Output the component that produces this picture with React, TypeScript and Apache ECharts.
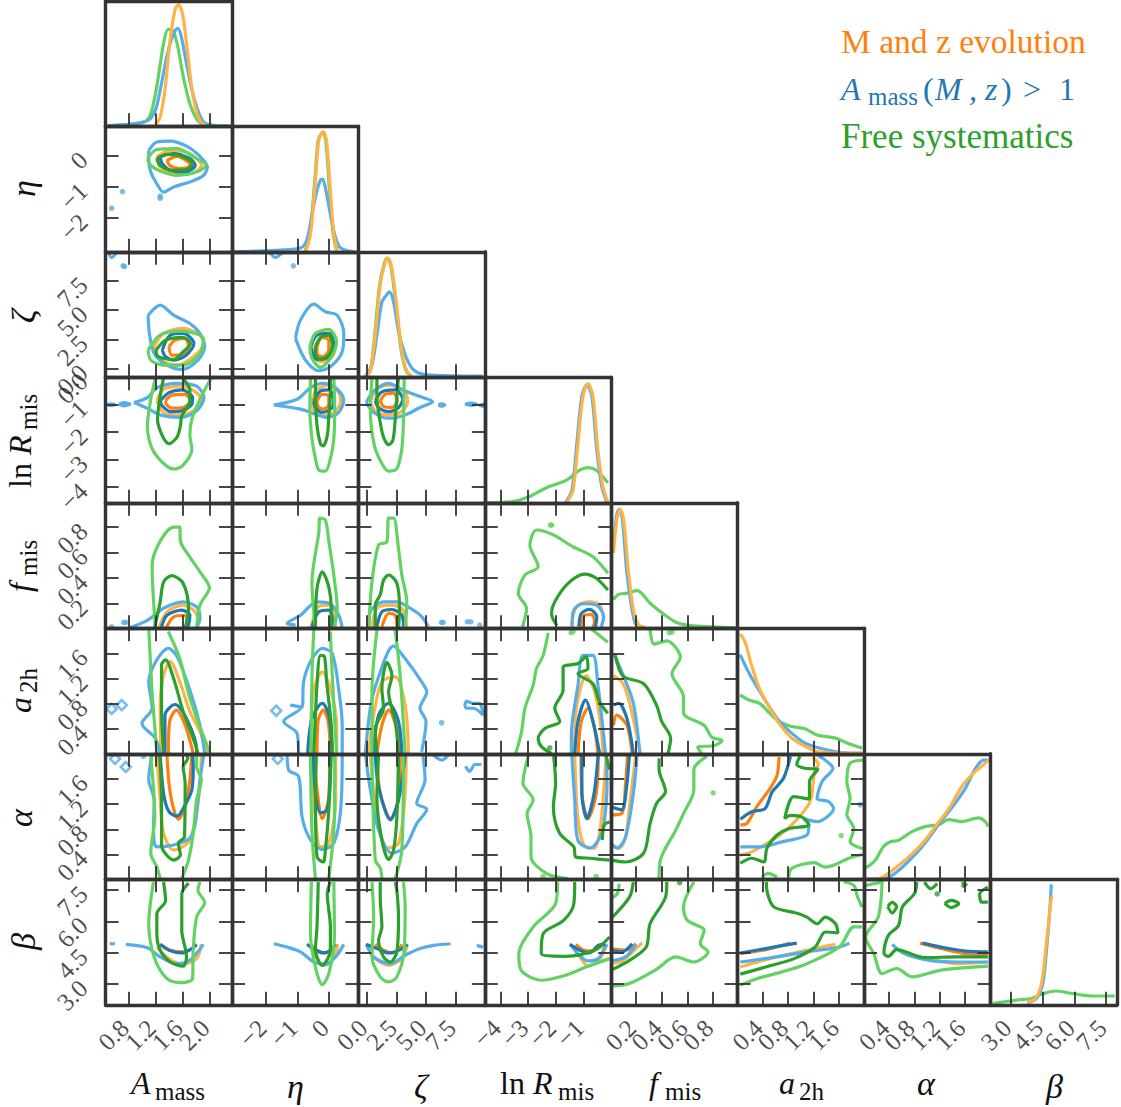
import React, { useEffect, useRef } from "react";
import * as echarts from "echarts";

type Curve = { k: string; kind: "line" | "dot" | "ring"; xs: number[]; ys: number[] };
const L = (k: string, xs: number[], ys: number[]): Curve => ({ k, kind: "line", xs: [...xs, xs[0]], ys: [...ys, ys[0]] });
const O = (k: string, xs: number[], ys: number[]): Curve => ({ k, kind: "line", xs, ys });
const D = (k: string, xs: number[], ys: number[]): Curve => ({ k, kind: "dot", xs, ys });
const R = (k: string, xs: number[], ys: number[]): Curve => ({ k, kind: "ring", xs, ys });

// Axis ranges and ticks
const amassRange = [0.46, 2.335];
const etaRange = [-3.1, 0.96];
const zetaRange = [-0.73, 9.98];
const lnRRange = [-4.57, 0];
const fmisRange = [0.008, 0.99];
const a2hRange = [0.007, 2.0];
const alphaRange = [0.005, 2.0];
const betaRange = [2.02, 8.0];
const ranges = [amassRange, etaRange, zetaRange, lnRRange, fmisRange, a2hRange, alphaRange, betaRange];

const amassTicks = [0.8, 1.2, 1.6, 2.0];
const etaTicks = [-2, -1, 0];
const zetaTicks = [0, 2.5, 5, 7.5];
const lnRTicks = [-4, -3, -2, -1];
const fmisTicks = [0.2, 0.4, 0.6, 0.8];
const a2hTicks = [0.4, 0.8, 1.2, 1.6];
const alphaTicks = [0.4, 0.8, 1.2, 1.6];
const betaTicks = [3, 4.5, 6, 7.5];
const ticks = [amassTicks, etaTicks, zetaTicks, lnRTicks, fmisTicks, a2hTicks, alphaTicks, betaTicks];

const amassLabels = ["0.8", "1.2", "1.6", "2.0"];
const etaLabels = ["−2", "−1", "0"];
const zetaLabels = ["0.0", "2.5", "5.0", "7.5"];
const lnRLabels = ["−4", "−3", "−2", "−1"];
const fmisLabels = ["0.2", "0.4", "0.6", "0.8"];
const a2hLabels = ["0.4", "0.8", "1.2", "1.6"];
const alphaLabels = ["0.4", "0.8", "1.2", "1.6"];
const betaLabels = ["3.0", "4.5", "6.0", "7.5"];
const tickLabels = [amassLabels, etaLabels, zetaLabels, lnRLabels, fmisLabels, a2hLabels, alphaLabels, betaLabels];

// One-dimensional marginals
const d_amass = [
  O("g", [0.5, 1.03, 1.13, 1.22, 1.32, 1.385, 1.44, 1.52, 1.61, 1.71, 1.81, 1.91, 2.3], [0.005, 0.035, 0.1, 0.32, 0.66, 0.77, 0.77, 0.66, 0.4, 0.18, 0.06, 0.015, 0.003]),
  O("b", [0.5, 0.9, 1.1, 1.2, 1.27, 1.37, 1.44, 1.49, 1.53, 1.58, 1.66, 1.74, 1.81, 1.91, 2.05], [0.005, 0.02, 0.05, 0.13, 0.29, 0.56, 0.7, 0.76, 0.78, 0.72, 0.5, 0.29, 0.155, 0.035, 0.005]),
  O("o", [1.2, 1.27, 1.34, 1.41, 1.49, 1.54, 1.6, 1.66, 1.73, 1.8, 1.87, 1.95], [0.01, 0.075, 0.29, 0.66, 0.93, 0.97, 0.9, 0.66, 0.34, 0.13, 0.035, 0.005]),
];
const d_eta = [
  O("g", [-0.76, -0.6, -0.44, -0.33, -0.19, -0.09, 0.04, 0.15, 0.26], [0, 0.14, 0.57, 0.89, 0.95, 0.89, 0.46, 0.14, 0.01]),
  O("b", [-3.05, -1.98, -0.9, -0.69, -0.53, -0.37, -0.26, -0.19, -0.1, 0.06, 0.23, 0.39, 0.82], [0, 0.01, 0.03, 0.1, 0.3, 0.49, 0.57, 0.58, 0.51, 0.3, 0.11, 0.03, 0]),
  O("o", [-0.74, -0.58, -0.42, -0.31, -0.17, -0.065, 0.065, 0.17, 0.28], [0, 0.14, 0.57, 0.89, 0.955, 0.89, 0.46, 0.14, 0.01]),
];
const d_zeta = [
  O("g", [-0.14, 0.28, 0.65, 1.07, 1.44, 1.72, 2.05, 2.48, 2.9, 3.32, 3.8], [0.01, 0.05, 0.34, 0.74, 0.9, 0.95, 0.87, 0.55, 0.21, 0.05, 0.005]),
  O("b", [-0.14, 0.42, 0.84, 1.26, 1.69, 1.9, 2.25, 2.67, 3.23, 3.93, 5.05, 9.8], [0.005, 0.1, 0.34, 0.6, 0.66, 0.68, 0.6, 0.37, 0.18, 0.06, 0.02, 0.01]),
  O("o", [-0.14, 0.28, 0.7, 1.12, 1.49, 1.77, 2.1, 2.53, 2.95, 3.37, 3.8], [0.01, 0.05, 0.34, 0.74, 0.9, 0.95, 0.87, 0.55, 0.21, 0.05, 0.01]),
];
const d_lnR = [
  O("g", [-4.5, -3.55, -2.95, -2.34, -1.62, -1.14, -0.84, -0.54, -0.12], [0, 0.01, 0.05, 0.12, 0.18, 0.26, 0.28, 0.26, 0.16]),
  O("b", [-1.64, -1.42, -1.24, -1.06, -0.88, -0.7, -0.52, -0.34, -0.16], [0.005, 0.1, 0.48, 0.85, 0.94, 0.85, 0.42, 0.13, 0.005]),
  O("o", [-1.6, -1.38, -1.2, -1.02, -0.84, -0.66, -0.48, -0.3, -0.12], [0.005, 0.1, 0.48, 0.85, 0.95, 0.85, 0.42, 0.13, 0.005]),
];
const d_fmis = [
  O("g", [0.026, 0.065, 0.13, 0.21, 0.31, 0.42, 0.52, 0.65, 0.99], [0.23, 0.27, 0.28, 0.3, 0.2, 0.11, 0.045, 0.02, 0.003]),
  O("b", [0.026, 0.05, 0.07, 0.095, 0.13, 0.17, 0.2, 0.25], [0.65, 0.9, 0.95, 0.87, 0.44, 0.15, 0.03, 0.005]),
  O("o", [0.026, 0.052, 0.078, 0.104, 0.143, 0.18, 0.22, 0.27], [0.6, 0.87, 0.95, 0.87, 0.44, 0.15, 0.03, 0.01]),
];
const d_a2h = [
  O("g", [0.047, 0.18, 0.36, 0.5, 0.65, 0.84, 1.07, 1.26, 1.55, 1.76, 1.97], [0.47, 0.43, 0.4, 0.33, 0.26, 0.22, 0.2, 0.15, 0.125, 0.08, 0.045]),
  O("b", [0.047, 0.18, 0.34, 0.5, 0.65, 0.86, 1.07, 1.34, 1.65, 1.97], [0.79, 0.65, 0.51, 0.38, 0.27, 0.165, 0.085, 0.04, 0.01, 0.005]),
  O("o", [0.047, 0.126, 0.23, 0.36, 0.5, 0.65, 0.86, 1.07, 1.28, 1.6, 1.97], [0.955, 0.89, 0.7, 0.51, 0.38, 0.25, 0.125, 0.06, 0.015, 0.005, 0.003]),
];
const d_alpha = [
  O("g", [0.03, 0.18, 0.31, 0.42, 0.55, 0.76, 0.97, 1.18, 1.34, 1.55, 1.81, 1.92, 1.96], [0.09, 0.15, 0.26, 0.3, 0.31, 0.38, 0.42, 0.435, 0.475, 0.46, 0.49, 0.46, 0.42]),
  O("b", [0.03, 0.34, 0.55, 0.76, 0.97, 1.18, 1.39, 1.6, 1.76, 1.89, 1.97], [0, 0.005, 0.07, 0.17, 0.29, 0.435, 0.57, 0.72, 0.88, 0.95, 0.95]),
  O("o", [0.03, 0.28, 0.49, 0.76, 0.97, 1.13, 1.34, 1.55, 1.7, 1.86, 1.97], [0, 0.013, 0.086, 0.2, 0.31, 0.42, 0.56, 0.74, 0.83, 0.9, 0.95]),
];
const d_beta = [
  O("g", [2.13, 3.38, 3.96, 4.35, 5.1, 5.9, 6.85, 7.9], [0.01, 0.04, 0.05, 0.08, 0.11, 0.09, 0.07, 0.07]),
  O("b", [3.77, 4.2, 4.5, 4.67, 4.83, 4.9], [0.015, 0.05, 0.17, 0.43, 0.75, 0.96]),
  O("o", [3.77, 4.15, 4.44, 4.63, 4.83, 4.92], [0.02, 0.05, 0.17, 0.43, 0.75, 0.87]),
];
const diagonals = [d_amass, d_eta, d_zeta, d_lnR, d_fmis, d_a2h, d_alpha, d_beta];

// Two-dimensional contours, one list per panel (row parameter _ column parameter)
const eta_amass = [
  L("b2", [1.1, 1.22, 1.42, 1.66, 1.83, 1.97, 1.91, 1.71, 1.47, 1.32, 1.22, 1.13, 1.1], [0.18, 0.45, 0.48, 0.32, 0.05, -0.36, -0.63, -0.84, -1.0, -1.17, -0.9, -0.52, -0.14]),
  L("o2", [1.22, 1.42, 1.71, 1.88, 1.71, 1.47, 1.27], [-0.03, 0.18, 0.08, -0.3, -0.57, -0.57, -0.36]),
  L("o1", [1.37, 1.52, 1.69, 1.71, 1.57, 1.42], [-0.14, -0.01, -0.2, -0.32, -0.41, -0.32]),
  L("b1", [1.27, 1.47, 1.71, 1.79, 1.64, 1.42, 1.3], [-0.03, 0.08, -0.09, -0.3, -0.52, -0.46, -0.25]),
  L("g2", [1.08, 1.22, 1.52, 1.76, 1.95, 1.81, 1.52, 1.27, 1.13], [-0.09, 0.21, 0.24, -0.03, -0.3, -0.52, -0.63, -0.49, -0.3]),
  L("g1", [1.22, 1.37, 1.59, 1.75, 1.66, 1.44, 1.27], [-0.09, 0.05, -0.01, -0.25, -0.44, -0.46, -0.3]),
  D("b2", [0.71, 0.55, 1.27, 1.27], [-1.15, -1.69, -1.3, -1.37]),
];
const zeta_amass = [
  L("b2", [1.09, 1.27, 1.47, 1.71, 1.86, 1.93, 1.83, 1.59, 1.37, 1.18, 1.11], [4.57, 5.43, 4.57, 3.86, 3.01, 1.88, 0.74, -0.06, 0.31, 1.31, 3.01]),
  L("o2", [1.18, 1.32, 1.61, 1.86, 1.91, 1.76, 1.52, 1.27], [1.88, 3.01, 3.44, 2.87, 2.16, 1.02, 0.31, 0.74]),
  L("o1", [1.4, 1.49, 1.64, 1.69, 1.57, 1.44], [1.88, 2.44, 2.59, 1.88, 1.17, 1.17]),
  L("b1", [1.3, 1.42, 1.61, 1.77, 1.66, 1.47, 1.35], [1.59, 2.87, 3.01, 2.16, 1.17, 0.74, 1.02]),
  L("g2", [1.09, 1.27, 1.57, 1.91, 1.86, 1.61, 1.32, 1.13], [1.59, 2.87, 3.21, 2.59, 1.31, 0.31, 0.31, 0.74]),
  L("g1", [1.21, 1.35, 1.61, 1.72, 1.61, 1.47, 1.32, 1.22], [1.59, 2.44, 2.67, 2.16, 1.45, 0.8, 0.88, 1.17]),
  O("b2", [0.5, 0.55, 0.62], [9.97, 9.49, 9.89]),
  D("b2", [0.72, 0.74], [8.78, 8.72]),
];
const zeta_eta = [
  L("b2", [-1.06, -0.9, -0.47, -0.1, 0.28, 0.49, 0.44, 0.06, -0.31, -0.74], [2.59, 4.15, 5.51, 4.86, 4.57, 3.01, 1.45, 0.17, -0.17, 0.74]),
  L("o2", [-0.53, -0.42, 0.01, 0.23, 0.12, -0.26, -0.47], [1.88, 3.01, 3.35, 2.44, 1.02, 0.6, 1.02]),
  L("b1", [-0.58, -0.37, 0.01, 0.17, 0.01, -0.37], [1.88, 2.87, 3.01, 2.02, 1.02, 0.8]),
  L("o1", [-0.37, -0.2, 0.01, 0.01, -0.2, -0.37], [1.88, 2.67, 2.44, 1.59, 1.02, 1.31]),
  L("g2", [-0.6, -0.42, 0.01, 0.26, 0.06, -0.26, -0.53], [1.88, 3.01, 3.35, 2.3, 0.88, 0.11, 0.88]),
  L("g1", [-0.42, -0.26, 0.01, 0.12, 0.01, -0.26, -0.42], [1.88, 2.67, 2.87, 2.02, 1.17, 0.8, 1.31]),
  O("b2", [-1.87, -1.71, -1.49], [9.89, 9.49, 9.89]),
  D("b2", [-1.13], [8.78]),
];
const lnR_amass = [
  L("b2", [0.88, 1.08, 1.22, 1.52, 1.81, 1.92, 1.81, 1.57, 1.27, 1.08], [-0.92, -0.74, -0.38, -0.22, -0.32, -0.74, -1.22, -1.46, -1.37, -1.13]),
  L("o2", [1.22, 1.32, 1.57, 1.81, 1.88, 1.76, 1.52, 1.32], [-0.86, -0.44, -0.32, -0.56, -0.86, -1.22, -1.37, -1.28]),
  L("o1", [1.35, 1.44, 1.64, 1.72, 1.61, 1.44, 1.36], [-0.86, -0.65, -0.62, -0.86, -1.1, -1.12, -0.98]),
  L("b1", [1.27, 1.4, 1.59, 1.75, 1.74, 1.59, 1.42, 1.3], [-0.86, -0.56, -0.46, -0.74, -0.98, -1.22, -1.25, -1.04]),
  O("g1", [1.32, 1.27, 1.23, 1.3, 1.4, 1.52, 1.57, 1.59, 1.71, 1.71, 1.64, 1.61], [-0.02, -0.68, -1.52, -2.12, -2.42, -2.18, -1.76, -1.4, -0.86, -0.44, -0.14, -0.02]),
  O("g2", [1.2, 1.13, 1.08, 1.15, 1.32, 1.47, 1.61, 1.74, 1.71, 1.74, 1.86, 2.0, 2.03], [-0.02, -0.8, -1.76, -2.6, -3.14, -3.34, -3.2, -2.6, -2.12, -1.52, -0.8, -0.14, -0.02]),
  L("b2", [0.66, 0.73, 0.82, 0.73], [-0.98, -0.92, -0.98, -1.04]),
  L("b2", [0.47, 0.55, 0.6, 0.55], [-1.0, -0.97, -1.0, -1.03]),
];
const lnR_eta = [
  L("b2", [-1.76, -1.01, -0.58, -0.2, 0.23, 0.49, 0.33, -0.04, -0.42, -0.9], [-1.01, -0.8, -0.38, -0.22, -0.38, -0.82, -1.28, -1.46, -1.34, -1.16]),
  L("o2", [-0.53, -0.37, 0.01, 0.33, 0.39, 0.17, -0.2, -0.47], [-0.86, -0.44, -0.29, -0.56, -0.92, -1.28, -1.4, -1.22]),
  L("o1", [-0.37, -0.2, 0.01, 0.01, -0.17, -0.34], [-0.86, -0.62, -0.68, -0.98, -1.16, -1.04]),
  L("b1", [-0.47, -0.26, 0.01, 0.17, 0.12, -0.2, -0.42], [-0.86, -0.5, -0.46, -0.8, -1.1, -1.28, -1.1]),
  O("g1", [-0.42, -0.42, -0.37, -0.26, -0.17, -0.04, 0.01, 0.06, 0.06], [-0.02, -0.68, -1.76, -2.42, -2.5, -2.12, -1.4, -0.56, -0.02]),
  O("g2", [-0.58, -0.6, -0.53, -0.42, -0.31, -0.1, 0.06, 0.17, 0.2, 0.17], [-0.02, -1.16, -2.24, -2.96, -3.38, -3.42, -2.96, -2.24, -1.16, -0.02]),
];
const lnR_zeta = [
  L("b2", [-0.06, 0.56, 1.83, 3.23, 4.49, 5.56, 4.49, 3.23, 1.83, 0.56], [-0.92, -0.5, -0.22, -0.5, -0.7, -0.89, -1.1, -1.37, -1.49, -1.28]),
  L("o2", [0.28, 0.84, 1.97, 3.23, 3.43, 2.81, 1.83, 0.7], [-0.86, -0.44, -0.29, -0.56, -0.92, -1.28, -1.37, -1.22]),
  L("o1", [1.12, 1.54, 2.25, 2.58, 2.11, 1.4], [-0.86, -0.62, -0.58, -0.86, -1.1, -1.06]),
  L("b1", [0.7, 1.26, 2.39, 3.03, 2.67, 1.83, 0.98], [-0.86, -0.53, -0.46, -0.8, -1.1, -1.25, -1.1]),
  O("g1", [0.84, 0.84, 1.07, 1.4, 1.83, 2.19, 2.39, 2.53, 2.67], [-0.02, -0.68, -1.52, -2.18, -2.45, -2.3, -1.52, -0.68, -0.02]),
  O("g2", [0.42, 0.28, 0.62, 1.26, 1.83, 2.53, 2.95, 3.09, 3.15], [-0.02, -1.16, -2.48, -3.14, -3.42, -3.32, -2.6, -1.52, -0.02]),
  L("b2", [6.05, 6.3, 6.6, 6.3], [-1.01, -0.97, -1.01, -1.05]),
  L("b2", [8.3, 8.8, 9.3, 8.8], [-0.98, -0.94, -0.98, -1.02]),
  L("b2", [9.5, 9.97, 9.97], [-1.02, -0.96, -1.07]),
];
const fmis_amass = [
  O("g2", [1.2, 1.15, 1.27, 1.47, 1.56, 1.57, 1.69, 1.86, 2.0, 1.86, 1.81], [0.007, 0.5, 0.69, 0.8, 0.8, 0.69, 0.58, 0.45, 0.325, 0.19, 0.007]),
  O("g1", [1.185, 1.27, 1.32, 1.44, 1.61, 1.69, 1.64], [0.007, 0.215, 0.37, 0.42, 0.36, 0.16, 0.007]),
  O("b2", [0.81, 1.08, 1.32, 1.61, 1.81, 1.86, 1.81], [0.012, 0.07, 0.165, 0.215, 0.175, 0.085, 0.012]),
  O("o2", [1.26, 1.37, 1.61, 1.79, 1.84], [0.02, 0.137, 0.19, 0.137, 0.046]),
  O("o1", [1.36, 1.47, 1.64, 1.69], [0.012, 0.098, 0.11, 0.033]),
  O("b1", [1.29, 1.37, 1.59, 1.71, 1.69, 1.64], [0.02, 0.11, 0.15, 0.11, 0.033, 0.012]),
  D("b2", [0.55, 0.73, 0.76], [0.02, 0.054, 0.054]),
];
const fmis_eta = [
  O("g2", [-0.42, -0.53, -0.31, -0.28, -0.1, 0.01, 0.17, 0.28, 0.17], [0.007, 0.37, 0.76, 0.87, 0.855, 0.69, 0.425, 0.16, 0.007]),
  O("g1", [-0.42, -0.37, -0.2, 0.01, 0.09, 0.06], [0.007, 0.32, 0.45, 0.33, 0.16, 0.007]),
  O("b2", [-1.06, -1.33, -0.9, -0.37, 0.06, 0.33, 0.44], [0.035, 0.046, 0.11, 0.215, 0.2, 0.11, 0.012]),
  O("o2", [-0.56, -0.31, 0.01, 0.17, 0.23], [0.02, 0.18, 0.19, 0.137, 0.012]),
  O("b1", [-0.53, -0.31, 0.01, 0.12, 0.12], [0.02, 0.137, 0.15, 0.085, 0.012]),
];
const fmis_zeta = [
  O("g2", [0.14, 0.42, 0.98, 1.69, 1.83, 2.25, 2.67, 2.95, 3.37, 3.23], [0.007, 0.37, 0.66, 0.685, 0.87, 0.87, 0.63, 0.425, 0.215, 0.007]),
  O("g1", [0.7, 0.7, 1.12, 1.4, 1.83, 2.53, 2.75, 2.67], [0.007, 0.19, 0.27, 0.385, 0.425, 0.36, 0.165, 0.007]),
  O("b2", [0.14, 0.28, 1.4, 2.53, 3.65, 4.63, 5.2], [0.012, 0.137, 0.215, 0.215, 0.165, 0.1, 0.02]),
  O("o2", [0.42, 0.84, 1.83, 2.95, 3.37], [0.012, 0.165, 0.19, 0.165, 0.012]),
  O("b1", [0.84, 1.26, 2.1, 2.95, 3.09], [0.02, 0.137, 0.155, 0.11, 0.02]),
  O("o1", [1.26, 1.83, 2.39, 2.53], [0.02, 0.125, 0.11, 0.02]),
  D("b2", [6.32, 6.45, 8.5, 8.8, 9.55], [0.054, 0.054, 0.059, 0.059, 0.033]),
];
const fmis_lnR = [
  O("g2", [-3.21, -3.06, -3.36, -3.12, -2.64, -2.94, -2.7, -2.1, -1.38, -0.66, -0.12], [0.02, 0.163, 0.28, 0.425, 0.49, 0.66, 0.777, 0.74, 0.646, 0.568, 0.438]),
  D("g2", [-2.2, -2.15], [0.816, 0.816]),
  O("g1", [-1.96, -2.16, -2.04, -1.56, -0.96, -0.54, -0.12], [0.028, 0.124, 0.216, 0.36, 0.432, 0.4, 0.307]),
  O("b2", [-1.41, -1.38, -1.02, -0.54, -0.27, -0.36], [0.02, 0.137, 0.2, 0.19, 0.098, 0.02]),
  O("o2", [-1.44, -1.26, -0.84, -0.42, -0.27], [0.033, 0.176, 0.215, 0.19, 0.06]),
  O("b1", [-1.17, -1.08, -0.78, -0.52, -0.57], [0.02, 0.124, 0.156, 0.098, 0.02]),
  O("o1", [-1.08, -0.96, -0.72, -0.6, -0.66], [0.02, 0.11, 0.116, 0.06, 0.02]),
];
const a2h_amass = [
  O("b2", [1.27, 1.2, 1.0, 1.15, 1.1, 1.22, 1.39, 1.52, 1.71, 1.86, 1.93], [0.014, 0.25, 0.49, 0.73, 1.15, 1.5, 1.68, 1.55, 1.02, 0.46, 0.014]),
  O("o2", [1.28, 1.27, 1.32, 1.42, 1.56, 1.71, 1.86, 1.98], [0.014, 0.78, 1.26, 1.47, 1.15, 0.68, 0.36, 0.014]),
  O("o1", [1.39, 1.41, 1.51, 1.64, 1.76], [0.014, 0.52, 0.7, 0.46, 0.014]),
  O("b1", [1.34, 1.34, 1.49, 1.66, 1.81, 1.81], [0.014, 0.62, 0.79, 0.57, 0.07, 0.014]),
  O("g1", [1.32, 1.29, 1.29, 1.35, 1.47, 1.61, 1.76, 1.83], [0.014, 0.73, 1.42, 1.5, 1.2, 0.68, 0.25, 0.014]),
  O("g2", [1.1, 1.12, 1.15, 1.22], [2.0, 1.57, 0.99, 0.014]),
  O("g2", [1.39, 1.56, 1.71, 2.0], [1.95, 1.52, 0.89, 0.04]),
  R("b2", [0.55, 0.7], [0.72, 0.78]),
];
const a2h_eta = [
  O("b2", [-0.96, -1.01, -1.44, -0.9, -1.23, -0.85, -0.8, -0.58, -0.2, 0.12, 0.33, 0.44, 0.44], [0.014, 0.33, 0.52, 0.73, 0.78, 0.75, 1.15, 1.47, 1.68, 1.6, 1.02, 0.46, 0.014]),
  O("o2", [-0.58, -0.49, -0.2, 0.06, 0.26, 0.26], [0.014, 0.99, 1.31, 1.05, 0.46, 0.014]),
  O("o1", [-0.37, -0.34, -0.17, -0.01, 0.06], [0.014, 0.52, 0.7, 0.52, 0.014]),
  O("b1", [-0.67, -0.53, -0.2, 0.01, 0.12], [0.014, 0.57, 0.81, 0.62, 0.014]),
  O("g1", [-0.47, -0.37, -0.26, -0.13, -0.06, 0.09, 0.12], [0.014, 1.1, 1.57, 1.55, 1.15, 0.46, 0.014]),
  O("g2", [-0.47, -0.53, -0.56], [2.0, 1.26, 0.014]),
  O("g2", [0.06, 0.12, 0.26], [1.95, 1.26, 0.014]),
  R("b2", [-1.68], [0.69]),
];
const a2h_zeta = [
  O("b2", [-0.14, 0.28, 0.84, 2.25, 3.23, 4.63, 5.06, 4.49, 5.0, 4.63], [0.014, 0.73, 1.15, 1.72, 1.52, 1.15, 0.99, 0.73, 0.52, 0.04]),
  O("o2", [0.14, 0.56, 1.26, 2.39, 3.23, 3.51], [0.014, 0.62, 1.15, 1.23, 0.78, 0.014]),
  O("o1", [0.84, 1.26, 1.83, 2.53, 2.81], [0.014, 0.46, 0.7, 0.41, 0.014]),
  O("b1", [0.56, 0.98, 1.83, 2.67, 2.95], [0.014, 0.62, 0.81, 0.52, 0.014]),
  O("g1", [0.84, 0.7, 1.4, 1.26, 1.69, 2.11, 1.83, 2.39, 2.67], [0.014, 0.41, 0.73, 1.04, 1.46, 1.25, 0.99, 0.52, 0.014]),
  O("g2", [0.84, 0.42, 0.42], [1.97, 0.99, 0.014]),
  O("g2", [2.39, 2.81, 3.23], [1.97, 1.25, 0.014]),
  D("b2", [6.32], [0.5]),
  O("b2", [8.29, 8.43, 9.0, 9.83, 9.55, 9.0, 8.43, 8.29], [0.78, 0.73, 0.73, 0.62, 0.81, 0.81, 0.84, 0.78]),
];
const a2h_lnR = [
  O("g2", [-3.45, -3.24, -3.12, -2.82, -2.7, -2.46, -2.28], [0.014, 0.36, 0.73, 1.1, 1.36, 1.57, 1.93]),
  O("g2", [-0.72, -0.12], [1.99, 1.78]),
  D("g2", [-1.38, -1.45], [1.95, 1.93]),
  O("g1", [-2.16, -2.52, -2.64, -2.4, -1.86, -2.04, -1.74, -1.74, -1.2, -0.9, -0.84, -1.2, -0.66, -0.42, -0.12], [0.014, 0.12, 0.25, 0.41, 0.52, 0.73, 1.02, 1.38, 1.44, 1.55, 1.36, 1.28, 1.12, 0.83, 0.65]),
  D("g1", [-2.22], [0.1]),
  O("b2", [-1.44, -1.44, -1.2, -1.02, -0.66, -0.48, -0.3, -0.21], [0.014, 0.3, 1.1, 1.57, 1.57, 1.1, 0.41, 0.014]),
  O("o2", [-1.32, -1.26, -0.9, -0.6, -0.36, -0.3], [0.014, 0.73, 1.25, 1.0, 0.41, 0.014]),
  O("o1", [-1.2, -1.08, -0.84, -0.6, -0.48], [0.014, 0.52, 0.73, 0.41, 0.014]),
  O("b1", [-1.32, -1.2, -0.93, -0.66, -0.42], [0.014, 0.52, 0.86, 0.52, 0.014]),
];
const a2h_fmis = [
  O("g2", [0.31, 0.34, 0.44, 0.545, 0.48, 0.57, 0.57, 0.73, 0.79, 0.87, 0.81, 0.68, 0.71], [1.99, 1.75, 1.8, 1.54, 1.28, 0.91, 0.65, 0.46, 0.27, 0.22, 0.14, 0.11, 0.014]),
  D("g2", [0.46, 0.48], [1.93, 1.94]),
  O("g1", [0.04, 0.1, 0.26, 0.36, 0.4, 0.47, 0.45], [1.57, 1.24, 1.12, 0.78, 0.52, 0.25, 0.014]),
  O("b2", [0.026, 0.08, 0.18, 0.23], [1.6, 1.36, 0.81, 0.014]),
  O("o2", [0.026, 0.1, 0.155, 0.235], [1.25, 1.12, 0.78, 0.014]),
  O("o1", [0.026, 0.05, 0.13, 0.17], [0.46, 0.62, 0.46, 0.014]),
  O("b1", [0.026, 0.065, 0.13, 0.18], [0.78, 0.81, 0.57, 0.014]),
];
const alpha_amass = [
  O("b2", [1.15, 1.1, 1.18, 1.17, 1.22, 1.47, 1.71, 1.79, 1.86, 1.92], [2.0, 1.59, 1.27, 0.74, 0.52, 0.55, 0.66, 0.89, 1.59, 2.0]),
  O("o2", [1.22, 1.27, 1.32, 1.47, 1.71, 1.85, 1.88], [2, 1.27, 0.74, 0.47, 0.63, 1.37, 2]),
  O("o1", [1.37, 1.42, 1.54, 1.64, 1.71, 1.74], [2, 1.37, 0.96, 1.16, 1.59, 2]),
  O("b1", [1.27, 1.32, 1.4, 1.52, 1.64, 1.74, 1.76, 1.75], [2, 1.37, 1.08, 1.01, 1.19, 1.43, 1.8, 2]),
  O("g1", [1.26, 1.29, 1.29, 1.47, 1.57, 1.54, 1.63, 1.64, 1.61, 1.68, 1.64], [2, 1.27, 0.55, 0.31, 0.39, 0.58, 0.68, 1.53, 1.8, 1.93, 2]),
  O("g2", [1.13, 1.19, 1.13, 1.22, 1.27], [1.96, 1.0, 0.42, 0.2, 0.017]),
  O("g2", [1.81, 1.81, 1.88, 1.81, 1.76, 1.69, 1.59], [2, 1.8, 1.59, 1.27, 0.74, 0.31, 0.017]),
  R("b2", [0.6, 0.76], [1.92, 1.79]),
  D("b2", [1.02], [1.96]),
];
const alpha_eta = [
  O("b2", [-1.33, -1.28, -0.96, -0.85, -0.58, -0.2, 0.17, 0.39, 0.44], [2, 1.74, 1.64, 1.0, 0.63, 0.48, 0.58, 1.11, 2]),
  O("o2", [-0.58, -0.42, -0.26, 0.01, 0.23, 0.23], [2, 1, 0.52, 0.58, 1.27, 2]),
  O("o1", [-0.47, -0.37, -0.2, 0.01, 0.04], [2, 1.43, 0.97, 1.32, 2]),
  O("b1", [-0.49, -0.42, -0.26, -0.04, 0.04, 0.06], [2, 1.37, 1.06, 1.11, 1.53, 2]),
  O("g1", [-0.39, -0.42, -0.37, -0.17, -0.1, 0.01, 0.09], [2, 1.27, 0.36, 0.28, 0.47, 1.11, 2]),
  O("g2", [-0.58, -0.53, -0.42], [2, 0.74, 0.017]),
  O("g2", [0.2, 0.19, 0.01], [2, 1, 0.017]),
  R("b2", [-1.63], [1.92]),
];
const alpha_zeta = [
  O("b2", [-0.14, 0.28, 0.98, 2.11, 3.23, 4.21, 5.06, 4.21, 4.92, 4.72], [2, 1.43, 0.79, 0.42, 0.52, 0.89, 1.12, 1.21, 1.59, 2]),
  O("o2", [0.28, 0.84, 1.69, 2.67, 3.23, 3.31], [2, 1, 0.5, 0.58, 1.37, 2]),
  O("o1", [0.84, 1.12, 2.02, 2.67, 2.81], [2, 1.37, 0.97, 1.27, 2]),
  O("b1", [0.7, 0.98, 1.97, 2.67, 3.09, 3.23], [2, 1.48, 0.95, 1.27, 1.75, 2]),
  O("g1", [0.98, 0.84, 1.26, 1.83, 2.25, 2.53, 2.67], [2, 1.29, 0.63, 0.32, 0.47, 1, 2]),
  O("g2", [0.42, 0.7, 1.12, 1.26], [2, 0.31, 0.18, 0.017]),
  O("g2", [3.09, 2.95, 2.39], [2, 0.47, 0.017]),
  O("b2", [5.62, 6.32, 6.88], [1.98, 1.9, 1.98]),
  O("b2", [8.34, 8.7, 9.13, 9.69], [1.8, 1.72, 1.83, 1.83]),
];
const alpha_lnR = [
  O("g2", [-2.97, -3.19, -2.82, -3.04, -2.9, -2.9, -2.31, -1.57], [2.01, 1.53, 1.27, 1.05, 0.68, 0.36, 0.09, 0.017]),
  O("g1", [-2.09, -2.01, -2.09, -1.87, -1.35, -1.28, -0.76, -0.06], [2.01, 1.53, 1.16, 0.74, 0.52, 0.36, 0.34, 0.31]),
  O("g1", [-0.2, -0.06], [2.0, 1.75]),
  O("g1", [-0.06, -0.25, -0.32], [0.92, 0.87, 0.63]),
  O("b2", [-1.43, -1.32, -1.21, -0.76, -0.4, -0.25, -0.15, -0.18], [2, 1.27, 0.63, 0.5, 0.68, 0.92, 1.53, 2]),
  O("o2", [-1.32, -1.21, -0.99, -0.62, -0.4, -0.25, -0.18], [2, 1, 0.55, 0.5, 0.79, 1.53, 2]),
  O("o1", [-1.09, -1.06, -0.84, -0.54, -0.47], [2, 1.37, 0.97, 1.37, 2]),
  O("b1", [-1.06, -1.06, -0.88, -0.62, -0.47], [2, 1.37, 0.97, 1.37, 2]),
  D("g2", [-2.46, -0.54], [0.05, 0.05]),
];
const alpha_fmis = [
  O("g2", [0.75, 0.65, 0.65, 0.57, 0.51, 0.39, 0.38], [1.96, 1.75, 1.43, 1.05, 0.79, 0.31, 0.017]),
  D("g2", [0.8], [1.38]),
  O("g1", [0.38, 0.38, 0.43, 0.36, 0.31, 0.26, 0.12, 0.006], [1.93, 1.75, 1.4, 1.21, 0.89, 0.42, 0.28, 0.31]),
  O("b2", [0.21, 0.18, 0.12, 0.055, 0.006], [2, 1.37, 0.68, 0.5, 0.58]),
  O("o2", [0.2, 0.15, 0.12, 0.07, 0.006], [2, 1.16, 0.68, 0.5, 0.55]),
  O("o1", [0.135, 0.12, 0.09, 0.006], [2, 1.53, 1.05, 1.03]),
  O("b1", [0.15, 0.125, 0.09, 0.006], [2, 1.43, 1.11, 1.16]),
];
const alpha_a2h = [
  O("o1", [0.05, 0.15, 0.31, 0.52, 0.63, 0.66], [0.87, 0.89, 1.16, 1.45, 1.66, 1.95]),
  O("b1", [0.05, 0.23, 0.44, 0.55, 0.73, 0.84], [0.96, 1.08, 1.13, 1.39, 1.61, 1.96]),
  O("o2", [0.05, 0.23, 0.6, 0.86, 1.15, 1.22, 1.28, 1.19], [0.39, 0.44, 0.66, 0.87, 1.24, 1.72, 1.83, 1.95]),
  O("b2", [0.05, 0.34, 0.71, 1.1, 1.13, 1.05, 1.26, 1.52, 1.44, 1.26, 1.34, 1.51, 1.35, 1.28], [0.52, 0.52, 0.6, 0.71, 0.87, 0.97, 0.92, 1.13, 1.24, 1.29, 1.56, 1.77, 1.93, 1.96]),
  O("g1", [0.05, 0.23, 0.42, 0.47, 0.63, 0.81, 1.13, 1.03, 0.84, 0.75, 0.89, 1.14, 1.14, 1.27, 1.07, 0.94, 0.99], [0.26, 0.34, 0.28, 0.5, 0.71, 0.81, 0.87, 0.99, 1.02, 0.97, 1.32, 1.28, 1.56, 1.75, 1.77, 1.83, 1.96]),
  O("g2", [1.99, 1.78, 1.73, 1.78, 1.73, 1.84, 1.78, 1.98], [1.9, 1.85, 1.56, 1.29, 1.03, 0.81, 0.6, 0.49]),
  O("g2", [0.81, 0.86, 1.21, 1.39, 1.55, 1.76, 1.98], [0.03, 0.18, 0.27, 0.2, 0.24, 0.34, 0.4]),
  O("g2", [0.39, 0.49, 0.63], [0.04, 0.1, 0.04]),
  D("g2", [1.64], [0.7]),
  D("b2", [1.94], [1.19]),
];
const beta_amass = [
  O("b2", [0.76, 1.08, 1.27, 1.52, 1.71, 1.91], [4.9, 4.74, 4.3, 3.98, 4.14, 4.9]),
  O("b2", [0.52, 0.6], [4.93, 4.93]),
  O("o2", [1.22, 1.4, 1.59, 1.81, 1.88], [4.77, 4.22, 3.95, 4.22, 4.9]),
  O("o1", [1.27, 1.42, 1.61, 1.74, 1.81], [4.9, 4.62, 4.54, 4.7, 4.9]),
  O("b1", [1.27, 1.4, 1.59, 1.74, 1.81], [4.9, 4.62, 4.49, 4.7, 4.9]),
  O("g1", [1.32, 1.35, 1.22, 1.22, 1.27, 1.42, 1.61, 1.66, 1.59, 1.59, 1.69], [7.87, 6.99, 6.36, 5.41, 4.62, 4.06, 3.86, 4.3, 5.57, 7.31, 7.82]),
  O("g2", [1.17, 1.1, 1.18, 1.37, 1.59, 1.75, 1.76, 1.81, 1.93, 1.83, 1.86], [7.87, 5.88, 4.3, 3.27, 3.08, 3.27, 4.62, 6.2, 6.91, 7.47, 7.87]),
];
const beta_eta = [
  O("b2", [-1.76, -1.33, -0.9, -0.47, -0.1, 0.23, 0.49], [4.93, 4.77, 4.54, 4.06, 3.95, 4.3, 4.9]),
  O("o2", [-0.58, -0.37, -0.2, 0.01, 0.23, 0.3], [4.77, 4.22, 3.9, 3.98, 4.46, 4.9]),
  O("o1", [-0.58, -0.37, -0.1, 0.12, 0.23], [4.9, 4.62, 4.49, 4.65, 4.9]),
  O("b1", [-0.69, -0.42, -0.15, 0.06, 0.23], [4.9, 4.62, 4.49, 4.62, 4.9]),
  O("g1", [-0.33, -0.37, -0.42, -0.2, 0.06, 0.06, -0.04, 0.06], [7.87, 5.73, 4.62, 3.9, 4.62, 5.73, 7.31, 7.87]),
  O("g2", [-0.55, -0.58, -0.42, -0.2, 0.01, 0.19, 0.17], [7.87, 5.41, 3.82, 2.98, 3.51, 5.25, 7.87]),
];
const beta_zeta = [
  O("b2", [-0.06, 0.56, 1.97, 3.23, 4.49, 5.62, 7.08], [4.9, 4.3, 3.98, 4.38, 4.7, 4.85, 4.93]),
  O("b2", [9.3, 9.83], [4.85, 4.77]),
  O("o2", [0.14, 0.7, 1.83, 2.95, 3.43], [4.77, 4.22, 3.9, 4.22, 4.9]),
  O("o1", [0.7, 1.4, 2.11, 2.67, 2.95], [4.9, 4.62, 4.49, 4.65, 4.9]),
  O("b1", [-0.08, 0.84, 1.83, 2.81, 3.43], [4.9, 4.7, 4.49, 4.65, 4.9]),
  O("g1", [1.12, 1.12, 1.26, 0.98, 1.4, 1.97, 2.53, 2.67, 2.53, 2.39], [7.87, 7.15, 5.73, 5.09, 4.3, 4.06, 4.54, 6.2, 7.47, 7.87]),
  O("g2", [0.42, 0.56, 0.42, 1.12, 1.83, 2.53, 3.15, 3.23, 3.09], [7.87, 6.2, 4.3, 3.35, 3.11, 3.35, 4.62, 6.68, 7.87]),
];
const beta_lnR = [
  O("g2", [-1.94, -2.01, -2.82, -3.34, -3.26, -2.53, -1.65, -0.91, -0.06], [7.87, 6.84, 5.73, 4.46, 3.67, 3.19, 3.43, 3.82, 4.22]),
  O("g1", [-1.32, -1.35, -1.72, -2.46, -2.53, -1.65, -0.62, -0.06], [7.87, 6.84, 6.04, 5.41, 4.46, 4.33, 4.62, 5.25]),
  O("b2", [-1.47, -1.21, -0.84, -0.47, -0.25, -0.15], [4.9, 4.46, 4.11, 4.22, 4.7, 4.9]),
  O("o2", [-1.38, -1.13, -0.84, -0.44, -0.25, -0.15], [4.77, 4.3, 3.86, 4.14, 4.62, 4.9]),
  O("o1", [-1.28, -0.99, -0.69, -0.4, -0.25], [4.9, 4.62, 4.58, 4.77, 4.9]),
  O("b1", [-1.5, -1.13, -0.79, -0.47, -0.21], [4.9, 4.62, 4.49, 4.85, 4.9]),
];
const beta_fmis = [
  O("g2", [0.65, 0.57, 0.6, 0.73, 0.7, 0.76, 0.65, 0.51, 0.35, 0.15, 0.006], [7.87, 6.68, 6.04, 5.57, 4.93, 4.54, 4.06, 4.3, 3.67, 3.03, 2.9]),
  O("g2", [0.07, 0.055, 0.006], [7.79, 7.31, 7.08]),
  O("g1", [0.44, 0.43, 0.31, 0.28, 0.15, 0.006], [7.87, 7.15, 5.88, 4.77, 4.14, 3.67]),
  O("g1", [0.18, 0.15, 0.006], [7.87, 7.15, 6.12]),
  D("g1", [0.54], [7.84]),
  O("o2", [0.006, 0.1, 0.2, 0.25], [3.98, 4.14, 4.7, 4.97]),
  O("b2", [0.006, 0.12, 0.2], [4.11, 4.3, 4.9]),
  O("o1", [0.006, 0.12, 0.2], [4.7, 4.62, 4.93]),
  O("b1", [0.006, 0.09, 0.17], [4.62, 4.54, 4.93]),
];
const beta_a2h = [
  O("o1", [0.05, 0.45, 0.84], [4.46, 4.65, 4.96]),
  O("b1", [0.05, 0.45, 0.94], [4.49, 4.7, 4.96]),
  O("o2", [0.05, 0.45, 1.1, 1.55], [3.82, 4.17, 4.62, 4.9]),
  O("b2", [0.05, 0.45, 1.1, 1.61, 1.77], [4.06, 4.22, 4.54, 4.77, 4.96]),
  O("g1", [0.05, 0.45, 0.9, 1.23, 1.39, 1.59, 1.55, 1.39, 1.26, 1.1, 0.97, 0.58, 0.48, 0.46], [3.48, 3.82, 4.22, 4.77, 5.49, 5.44, 5.88, 6.2, 5.88, 6.2, 6.36, 6.68, 7.31, 7.87]),
  O("g2", [0.05, 0.32, 0.71, 1.1, 1.61, 1.84, 1.97], [2.95, 3.27, 3.59, 3.98, 4.77, 5.73, 5.73]),
  O("g2", [1.68, 1.84, 1.9, 1.97], [7.87, 7.71, 7.15, 6.68]),
];
const beta_alpha = [
  O("g2", [0.03, 0.29, 0.23, 0.03, 0.16, 0.29, 0.52, 0.77, 1.22, 1.96], [7.71, 7.87, 6.2, 5.25, 4.46, 3.51, 3.75, 3.35, 3.67, 3.86]),
  O("b2", [0.45, 0.64, 1.03, 1.48, 1.96], [4.9, 4.46, 4.14, 4.06, 4.06]),
  O("o2", [0.48, 0.71, 1.03, 1.48, 1.96], [4.77, 4.38, 4.22, 3.98, 4.06]),
  O("b1", [0.93, 1.22, 1.6, 1.96], [4.96, 4.77, 4.58, 4.54]),
  O("o1", [0.89, 1.22, 1.6, 1.96], [4.96, 4.7, 4.46, 4.43]),
  O("g1", [0.84, 0.8, 0.61, 0.55, 0.39, 0.32, 0.39, 0.52, 0.96, 1.48, 1.96], [7.87, 7.31, 6.68, 5.8, 5.33, 4.46, 4.33, 4.65, 4.27, 4.3, 4.3]),
  L("g1", [0.38, 0.45, 0.52, 0.45], [6.7, 6.9, 6.7, 6.4]),
  L("g1", [1.28, 1.38, 1.5, 1.38], [6.85, 7.0, 6.85, 6.65]),
  O("g1", [0.96, 1.06, 1.16], [7.87, 7.55, 7.8]),
  O("g1", [1.57, 1.57, 1.63], [7.87, 7.63, 7.8]),
  O("g1", [1.96, 1.83, 1.86, 1.96], [7.63, 7.3, 6.91, 6.91]),
  D("g1", [1.16], [7.3]),
];

const panels: [number, number, Curve[]][] = [
  [1, 0, eta_amass], [2, 0, zeta_amass], [2, 1, zeta_eta],
  [3, 0, lnR_amass], [3, 1, lnR_eta], [3, 2, lnR_zeta],
  [4, 0, fmis_amass], [4, 1, fmis_eta], [4, 2, fmis_zeta], [4, 3, fmis_lnR],
  [5, 0, a2h_amass], [5, 1, a2h_eta], [5, 2, a2h_zeta], [5, 3, a2h_lnR], [5, 4, a2h_fmis],
  [6, 0, alpha_amass], [6, 1, alpha_eta], [6, 2, alpha_zeta], [6, 3, alpha_lnR], [6, 4, alpha_fmis], [6, 5, alpha_a2h],
  [7, 0, beta_amass], [7, 1, beta_eta], [7, 2, beta_zeta], [7, 3, beta_lnR], [7, 4, beta_fmis], [7, 5, beta_a2h], [7, 6, beta_alpha],
];

const COLORS: Record<string, string> = {
  o: "#ffb347", b: "#56ade8", g: "#62d362",
  o1: "#ff7f0e", b1: "#1f77b4", g1: "#2ca02c",
  o2: "#ffb347", b2: "#56ade8", g2: "#62d362",
};
const ORDER = ["o2", "o1", "b2", "b1", "g2", "g1"];
const FRAME = "#333333";
const SERIF = '"Liberation Serif"';
const LEFT = 105.6, STEPX = 126.4, TOP = 0.8, STEPY = 125.5;

function buildOption() {
  const grid: any[] = [], xAxis: any[] = [], yAxis: any[] = [], series: any[] = [];
  const addGrid = (row: number, col: number, curves: Curve[], diag: boolean) => {
    const g = grid.length;
    grid.push({ left: LEFT + col * STEPX, top: TOP + row * STEPY, width: STEPX, height: STEPY });
    const xr = ranges[col];
    const yr = diag ? [0, 1] : ranges[row];
    const line = { show: true, onZero: false, lineStyle: { color: FRAME, width: 3.4 } };
    const tick = (vals: number[]) => ({ show: true, inside: true, length: 13, customValues: vals, lineStyle: { color: FRAME, width: 1.8 } });
    const noTick = { show: false };
    const noLabel = { show: false };
    const base = { type: "value", gridIndex: g, scale: true, splitLine: { show: false }, z: 4 };
    const xi = xAxis.length;
    xAxis.push({ ...base, position: "bottom", min: xr[0], max: xr[1], axisLine: line, axisTick: tick(ticks[col]), axisLabel: noLabel });
    xAxis.push({ ...base, position: "top", min: xr[0], max: xr[1], axisLine: line,
      axisTick: !diag && row >= 2 ? tick(ticks[col]) : noTick, axisLabel: noLabel });
    const yi = yAxis.length;
    const yTicks = diag ? [] : ticks[row];
    yAxis.push({ ...base, position: "left", min: yr[0], max: yr[1], axisLine: line,
      axisTick: diag ? noTick : tick(yTicks), axisLabel: noLabel });
    yAxis.push({ ...base, position: "right", min: yr[0], max: yr[1], axisLine: line,
      axisTick: diag ? noTick : tick(yTicks), axisLabel: noLabel });
    // Tick labels: rotated, free of the axis label overlap filter, positioned by the same scales
    const tickText = (pts: number[][], texts: string[], offset: number[]) => ({
      type: "scatter", xAxisIndex: xi, yAxisIndex: yi, data: pts, symbolSize: 1, silent: true, clip: false, z: 6,
      itemStyle: { color: "transparent" },
      label: { show: true, position: "inside", rotate: 45, align: "right", verticalAlign: "middle", offset,
        color: "#1c1c1c", fontFamily: SERIF, fontSize: 25, formatter: (p: any) => texts[p.dataIndex] },
    });
    if (row === 7) series.push(tickText(ticks[col].map((v) => [v, yr[0]]), tickLabels[col], [-16.3, 10.6]));
    if (col === 0 && !diag) {
      const vals = row === 3 ? [0, ...lnRTicks] : ticks[row];
      const txt = row === 3 ? ["0.0", ...lnRLabels] : tickLabels[row];
      series.push(tickText(vals.map((v) => [xr[0], v]), txt, [-15.8, -15.8]));
    }
    const sorted = diag ? curves : [...curves].sort((a, b) => ORDER.indexOf(a.k) - ORDER.indexOf(b.k));
    for (const c of sorted) {
      const data = c.xs.map((x, i) => [x, c.ys[i]]);
      const color = COLORS[c.k];
      if (c.kind === "line") {
        series.push({ type: "line", xAxisIndex: xi, yAxisIndex: yi, data, showSymbol: false, symbol: "none", smooth: 0.3,
          lineStyle: { color, width: 3.2 }, silent: true, clip: true });
      } else {
        series.push({ type: "scatter", xAxisIndex: xi, yAxisIndex: yi, data, silent: true, clip: true,
          symbol: c.kind === "ring" ? "diamond" : "circle", symbolSize: c.kind === "ring" ? 10 : 5.5,
          itemStyle: c.kind === "ring" ? { color: "#ffffff", borderColor: color, borderWidth: 2.6 } : { color } });
      }
    }
  };
  diagonals.forEach((c, i) => addGrid(i, i, c, true));
  panels.forEach(([r, c, cs]) => addGrid(r, c, cs, false));

  const t = (text: string, x: number, y: number, size: number, italic: boolean, fill = "#111111") => ({
    type: "text", x, y,
    style: { text, fill, font: `${italic ? "italic " : ""}${size}px ${SERIF}`, textAlign: "left", textVerticalAlign: "middle" },
  });
  const xLab = (x: number, kids: any[]) => ({ type: "group", x, y: 1083, children: kids });
  const yLab = (y: number, kids: any[]) => ({ type: "group", x: 20, y, rotation: Math.PI / 2, children: kids });
  const lab = {
    amass: () => [t("A", 0, 0, 32, true), t("mass", 24, 8, 25, false)],
    eta: () => [t("η", 0, 3, 34, true)],
    zeta: () => [t("ζ", 0, 3, 34, true)],
    lnR: () => [t("ln", 0, 0, 32, false), t("R", 33, 0, 32, true), t("mis", 58, 8, 25, false)],
    fmis: () => [t("f", 0, 0, 32, true), t("mis", 16, 8, 25, false)],
    a2h: () => [t("a", 0, 0, 32, true), t("2h", 20, 8, 25, false)],
    alpha: () => [t("α", 0, 0, 34, true)],
    beta: () => [t("β", 0, 3, 34, true)],
  };
  const graphic = [
    xLab(131, lab.amass()), xLab(287, lab.eta()), xLab(414, lab.zeta()), xLab(500, lab.lnR()),
    xLab(649, lab.fmis()), xLab(779, lab.a2h()), xLab(917, lab.alpha()), xLab(1046, lab.beta()),
    yLab(197, lab.eta()), yLab(323, lab.zeta()), yLab(488, lab.lnR()), yLab(592, lab.fmis()),
    yLab(713, lab.a2h()), yLab(827, lab.alpha()), yLab(950, lab.beta()),
    t("M and z evolution", 841, 41, 33.5, false, "#ff7f0e"),
    t("A", 841, 89, 32, true, "#1f77b4"), t("mass", 868, 96, 25, false, "#1f77b4"),
    t("(", 923, 89, 32, false, "#1f77b4"), t("M", 935, 89, 32, true, "#1f77b4"),
    t(",", 969, 89, 32, true, "#1f77b4"), t("z", 985, 89, 32, true, "#1f77b4"),
    t(")", 1001, 89, 32, false, "#1f77b4"), t(">", 1023, 89, 32, false, "#1f77b4"),
    t("1", 1059, 89, 32, false, "#1f77b4"),
    t("Free systematics", 841, 136, 35, false, "#2ca02c"),
  ].map((g) => ({ ...g, z: 20 }));
  return { animation: false, backgroundColor: "#ffffff", grid, xAxis, yAxis, series, graphic };
}

export default function App() {
  const ref = useRef<HTMLDivElement>(null);
  useEffect(() => {
    const chart = echarts.init(ref.current!, undefined, { renderer: "svg" });
    chart.setOption(buildOption() as any);
    return () => chart.dispose();
  }, []);
  return <div ref={ref} style={{ position: "absolute", left: 0, top: 0, width: 1121, height: 1107 }} />;
}
